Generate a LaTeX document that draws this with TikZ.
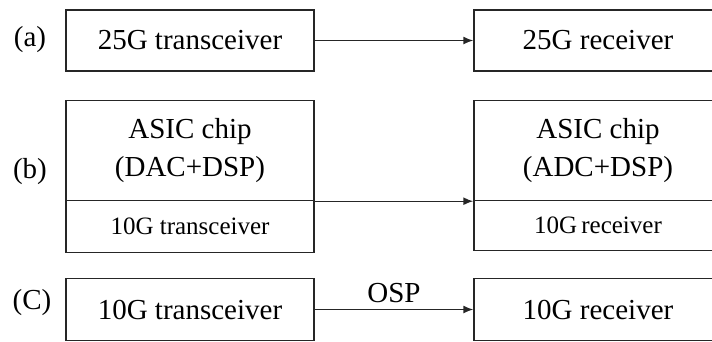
\documentclass[tikz,border=0pt]{standalone}
\usepackage{fontspec}
\setmainfont{Liberation Serif}
\usepackage{tikz}
\usetikzlibrary{arrows.meta}

\begin{document}
\begin{tikzpicture}[x=1pt,y=-1pt]
		\tikzstyle{Block}	= [rectangle, draw=black!85, line width=1.4pt, minimum width=248pt, inner sep=0pt, font=\fontsize{29}{38}\selectfont, align=center]
		\tikzstyle{Small}	= [font=\fontsize{25}{30}\selectfont]
		\tikzstyle{Tag}		= [font=\fontsize{29}{34}\selectfont]
		\tikzstyle{Link}	= [line width=1.4pt, black!85, -{Latex[length=10pt,width=8pt]}]

		\useasboundingbox (0,0) rectangle (712,341);

		% (a)
		\node (la) at (30,40) [Tag] {(a)};
		\node (txa) at (190,40.5) [Block, minimum height=61pt] {25G transceiver};
		\node (rxa) at (598,40.5) [Block, minimum height=61pt] {25G receiver};

		% (b)
		\node (lb) at (30,172) [Tag] {(b)};
		\node (dac) at (190,150.5) [Block, minimum height=100pt] {ASIC chip\\(DAC+DSP)};
		\node (trxb) at (190,226.5) [Block, Small, minimum height=52pt] {10G transceiver};
		\node (adc) at (598,150.5) [Block, minimum height=100pt] {ASIC chip\\(ADC+DSP)};
		\node (rcvb) at (598,225.5) [Block, Small, minimum height=50pt] {10G\,receiver};

		% (C)
		\node (lc) at (32,303) [Tag] {(C)};
		\node (txc) at (190,309.5) [Block, minimum height=62pt] {10G transceiver};
		\node (rxc) at (598,309.5) [Block, minimum height=62pt] {10G receiver};

		\draw (txa) to (rxa) [Link];
		\draw (dac.south east) to (adc.south west) [Link];
		\draw (txc) to node [above=3pt, Tag] {OSP} (rxc) [Link];
	\end{tikzpicture}
\end{document}
